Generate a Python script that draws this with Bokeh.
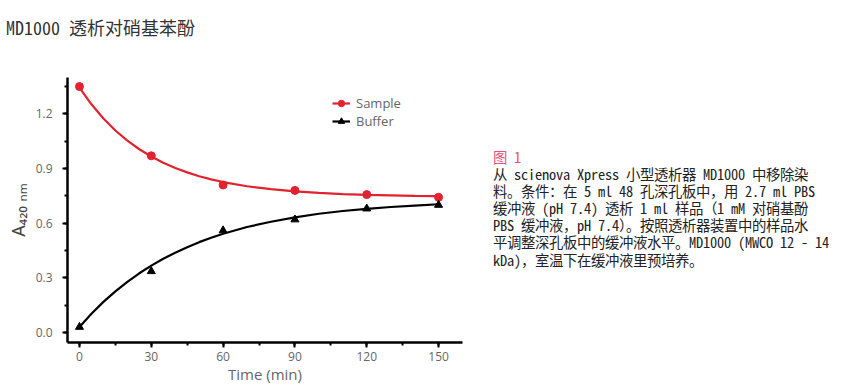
from bokeh.plotting import figure
from bokeh.layouts import column, row
from bokeh.models import (Range1d, SingleIntervalTicker, Legend, LegendItem,
                          NumeralTickFormatter, Div, GlobalInlineStyleSheet)
from bokeh.embed import file_html
from bokeh.resources import INLINE

# measured points
time_pts = [0, 30, 60, 90, 120, 150]
sample_pts = [1.35, 0.97, 0.81, 0.78, 0.757, 0.742]
buffer_pts = [0.03, 0.336, 0.56, 0.62, 0.68, 0.70]

# fitted curves
fit_time = [0, 5, 10, 15, 20, 25, 30, 35, 40, 45, 50, 55, 60, 70, 80, 90,
            100, 110, 120, 130, 140, 150]
sample_fit = [1.345, 1.253, 1.175, 1.109, 1.053, 1.006, 0.966, 0.932, 0.903,
              0.879, 0.858, 0.841, 0.826, 0.803, 0.787, 0.775, 0.766, 0.760,
              0.756, 0.753, 0.750, 0.749]
buffer_fit = [0.03, 0.103, 0.168, 0.226, 0.278, 0.325, 0.367, 0.405, 0.438,
              0.468, 0.496, 0.520, 0.542, 0.579, 0.608, 0.632, 0.652, 0.667,
              0.679, 0.689, 0.697, 0.704]

title_text = "MD1000 透析对硝基苯酚"
fig_label = "图 1"
caption_lines = [
    "从 scienova Xpress 小型透析器 MD1000 中移除染",
    "料。条件：在 5 ml 48 孔深孔板中，用 2.7 ml PBS",
    "缓冲液 (pH 7.4) 透析 1 ml 样品（1 mM 对硝基酚",
    "PBS 缓冲液，pH 7.4）。按照透析器装置中的样品水",
    "平调整深孔板中的缓冲液水平。MD1000 (MWCO 12 - 14",
    "kDa)，室温下在缓冲液里预培养。",
]
y_label = "A₄₂₀ ₙₘ"

RED = "#e2232f"
GRAY = "#666666"
SANS = "Open Sans"
CJK = "'Noto Sans Mono CJK SC', 'Noto Sans CJK SC'"
CAP = "'CapCJK', 'Noto Sans Mono CJK SC', 'Noto Sans CJK SC'"

font_css = GlobalInlineStyleSheet(css="""
@font-face {
  font-family: 'CapCJK';
  src: local('Noto Sans Mono CJK SC'), local('Noto Sans Mono CJK SC Regular'),
       local('NotoSansMonoCJKsc-Regular'), local('NotoSansMonoCJKSC-Regular');
  ascent-override: 88%;
  descent-override: 12%;
  line-gap-override: 0%;
}
""")

TOP = 50

p = figure(width=470, height=391 - TOP, output_backend="svg", toolbar_location=None,
           x_range=Range1d(-5, 160), y_range=Range1d(-0.055, 1.40),
           min_border_left=67, min_border_right=8, min_border_top=77 - TOP,
           min_border_bottom=49, margin=(0, 0, 0, 0))
p.outline_line_color = None
p.grid.visible = False
p.background_fill_color = "white"
p.border_fill_color = "white"

for ax in (p.xaxis[0], p.yaxis[0]):
    ax.axis_line_width = 2.5
    ax.axis_line_color = "black"
    ax.major_tick_line_width = 2
    ax.minor_tick_line_width = 2
    ax.major_tick_line_color = "black"
    ax.minor_tick_line_color = "black"
    ax.major_tick_out = 5
    ax.major_tick_in = 0
    ax.minor_tick_out = 3
    ax.minor_tick_in = 0
    ax.major_label_text_font = SANS
    ax.major_label_text_color = GRAY
    ax.major_label_text_font_size = "12px"

p.xaxis.ticker = SingleIntervalTicker(interval=30, num_minor_ticks=2)
p.yaxis.ticker = SingleIntervalTicker(interval=0.3, num_minor_ticks=2)
p.yaxis.formatter = NumeralTickFormatter(format="0.0")
p.xaxis.major_label_standoff = 4
p.yaxis.major_label_standoff = 10
p.xaxis.axis_label = "Time (min)"
p.xaxis.axis_label_text_font = SANS
p.xaxis.axis_label_text_font_style = "normal"
p.xaxis.axis_label_text_font_size = "15px"
p.xaxis.axis_label_text_color = GRAY
p.xaxis.axis_label_standoff = 0
p.yaxis.axis_label = y_label
p.yaxis.axis_label_text_font = "'Noto Sans', 'DejaVu Sans'"
p.yaxis.axis_label_text_font_style = "normal"
p.yaxis.axis_label_text_font_size = "18px"
p.yaxis.axis_label_text_color = "#444444"
p.yaxis.axis_label_standoff = 3

ls = p.line(fit_time, sample_fit, line_color=RED, line_width=2.2)
cs = p.scatter(time_pts, sample_pts, marker="circle", size=8, fill_color=RED,
               line_color=RED)
lb = p.line(fit_time, buffer_fit, line_color="black", line_width=2.2)
tb = p.scatter(time_pts, buffer_pts, marker="triangle", size=8, fill_color="black",
               line_color="black")

legend = Legend(items=[LegendItem(label="Sample", renderers=[ls, cs]),
                       LegendItem(label="Buffer", renderers=[lb, tb])],
                location=(265, 212), glyph_width=18, glyph_height=16,
                label_height=16, label_standoff=6, spacing=0, padding=0, margin=0,
                border_line_color=None, background_fill_alpha=0,
                label_text_font=SANS, label_text_font_size="13px",
                label_text_color=GRAY)
p.add_layout(legend, "center")

title_div = Div(text=title_text, width=865, height=TOP, margin=(0, 0, 0, 0),
                stylesheets=[font_css],
                styles={"font-family": CJK, "font-size": "18px", "color": "#333333",
                        "padding-left": "6px", "padding-top": "15px",
                        "line-height": "24px", "white-space": "nowrap",
                        "box-sizing": "border-box"})

cap_html = ('<span style="color:#e8507a">' + fig_label + '</span><br>' +
            "<br>".join(caption_lines))
caption_div = Div(text=cap_html, width=395, height=391 - TOP, margin=(0, 0, 0, 0),
                  styles={"font-family": CAP, "font-size": "14.4px", "color": "#222222",
                          "padding-left": "23px", "padding-top": "99px",
                          "line-height": "17.1px", "white-space": "nowrap",
                          "box-sizing": "border-box"})

layout = column(title_div, row(p, caption_div, spacing=0), spacing=0)

open("out.html", "w").write(file_html(layout, INLINE))
